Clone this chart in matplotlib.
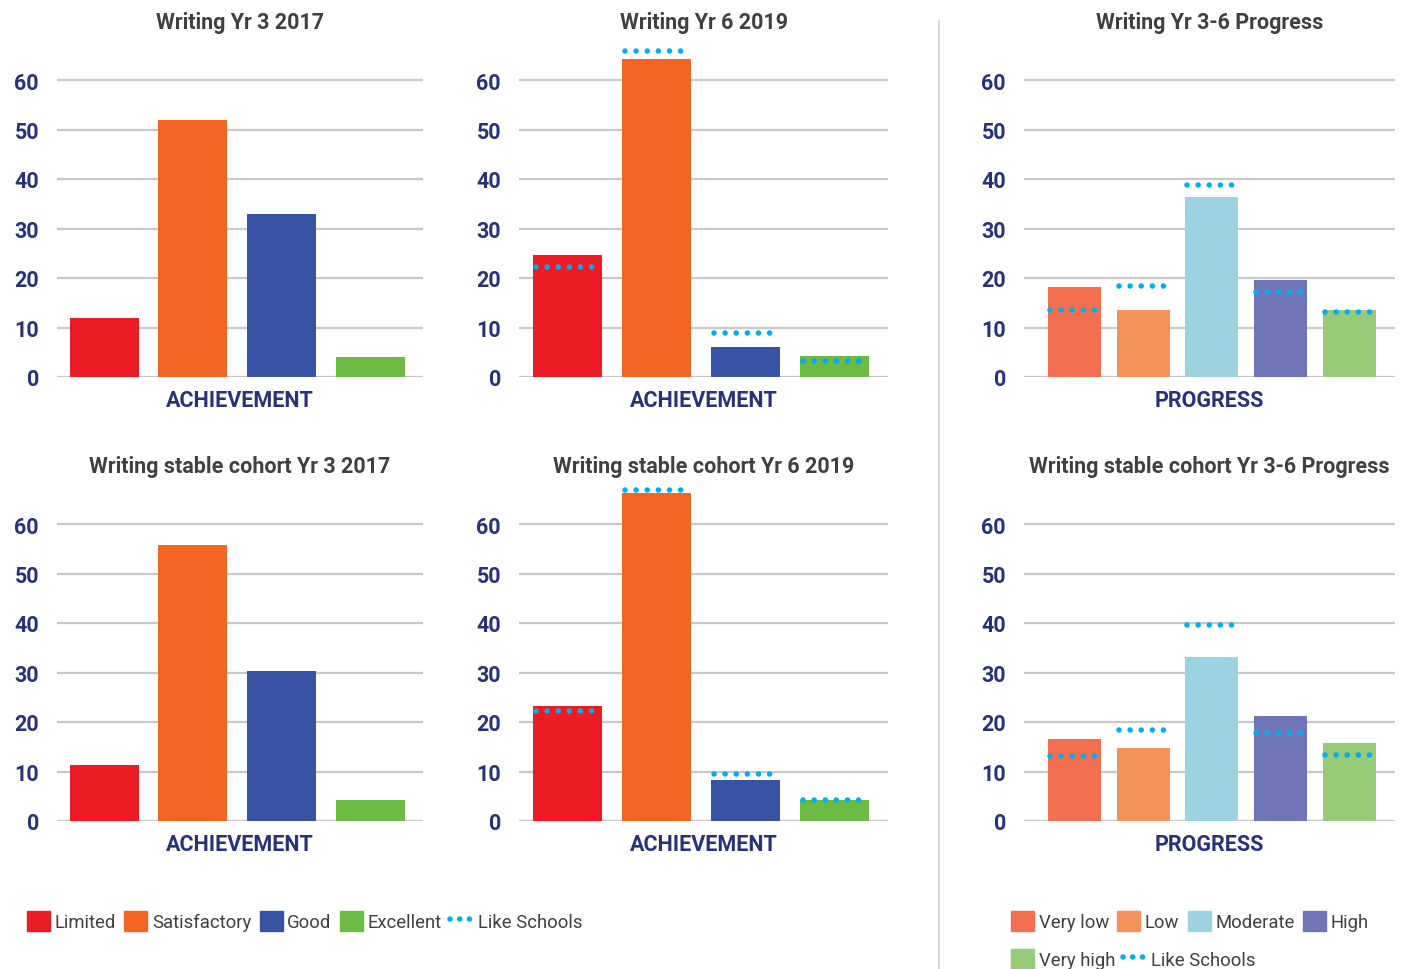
import matplotlib

matplotlib.use("Agg")

import matplotlib.pyplot as plt
from matplotlib.lines import Line2D
from matplotlib.patches import Patch

plt.rcParams["font.family"] = ["Roboto", "DejaVu Sans"]

ach_levels = ["Limited", "Satisfactory", "Good", "Excellent"]
ach_colors = ["#ed1c24", "#f26522", "#3853a4", "#6cbb45"]
prog_levels = ["Very low", "Low", "Moderate", "High", "Very high"]
prog_colors = ["#f26f50", "#f5915a", "#9dd3e1", "#6e76b7", "#97cb77"]
like_color = "#00aeef"

# school results (%)
yr3_2017 = [12, 52, 33, 4]
yr6_2019 = [24.6, 64.2, 6.1, 4.2]
yr6_2019_like = [22.2, 65.9, 8.9, 3.2]
prog_3_6 = [18.2, 13.5, 36.4, 19.6, 13.5]
prog_3_6_like = [13.5, 18.3, 38.8, 17.1, 13.2]

stable_yr3_2017 = [11.4, 55.7, 30.4, 4.3]
stable_yr6_2019 = [23.3, 66.3, 8.2, 4.3]
stable_yr6_2019_like = [22.3, 66.8, 9.4, 4.3]
stable_prog = [16.5, 14.8, 33.1, 21.3, 15.7]
stable_prog_like = [13.1, 18.3, 39.5, 17.7, 13.3]

y_ticks = [0, 10, 20, 30, 40, 50, 60]

NAVY = "#283377"
GREY_TEXT = "#404040"
GRID = "#c8c8c8"

W, H = 1411, 970
fig = plt.figure(figsize=(W / 100, H / 100), dpi=100)

DOT_LW = 4.0


def add_panel(x0, x1, y_zero, title, values, colors, xlabel, like=None, bar_w=0.775, margins=(0.53, 0.59)):
    px_per_unit = 4.95
    top = y_zero - 68 * px_per_unit
    ax = fig.add_axes([x0 / W, (H - y_zero) / H, (x1 - x0) / W, (y_zero - top) / H])
    xs = list(range(len(values)))
    ax.bar(xs, values, width=bar_w, color=colors, zorder=2)
    if like is not None:
        for x, v in zip(xs, like):
            ax.plot([x - bar_w / 2 + 0.03, x + bar_w / 2 - 0.03], [v, v], color=like_color,
                    lw=DOT_LW, linestyle=(0, (0.001, 2.0)), dash_capstyle="round",
                    zorder=3, clip_on=False)
    ax.set_xlim(-margins[0], len(values) - 1 + margins[1])
    ax.set_ylim(0, 68)
    ax.set_yticks(y_ticks)
    for t in y_ticks:
        ax.axhline(t, color=GRID, lw=1.6, zorder=1)
    for s in ax.spines.values():
        s.set_visible(False)
    ax.set_xticks([])
    ax.tick_params(axis="y", length=0, pad=13, labelsize=15.5, labelcolor=NAVY)
    for lbl in ax.get_yticklabels():
        lbl.set_fontweight("bold")
    ax.set_xlabel(xlabel, fontsize=15.5, fontweight="bold", color=NAVY, labelpad=9)
    ax.set_title(title, fontsize=15.5, fontweight="bold", color=GREY_TEXT, pad=9)
    return ax


add_panel(57, 423, 378, "Writing Yr 3 2017", yr3_2017, ach_colors, "ACHIEVEMENT")
add_panel(519, 888, 378, "Writing Yr 6 2019", yr6_2019, ach_colors, "ACHIEVEMENT",
          like=yr6_2019_like, margins=(0.55, 0.6))
add_panel(1024, 1395, 378, "Writing Yr 3-6 Progress", prog_3_6, prog_colors, "PROGRESS",
          like=prog_3_6_like, bar_w=0.77, margins=(0.73, 0.66))

add_panel(57, 423, 822, "Writing stable cohort Yr 3 2017", stable_yr3_2017, ach_colors, "ACHIEVEMENT")
add_panel(519, 888, 822, "Writing stable cohort Yr 6 2019", stable_yr6_2019, ach_colors, "ACHIEVEMENT",
          like=stable_yr6_2019_like, margins=(0.55, 0.6))
add_panel(1024, 1395, 822, "Writing stable cohort Yr 3-6 Progress", stable_prog, prog_colors, "PROGRESS",
          like=stable_prog_like, bar_w=0.77, margins=(0.73, 0.66))

# divider between achievement and progress charts
fig.add_artist(Line2D([939 / W, 939 / W], [0, (H - 22) / H], color="#d0d0d0", lw=1.2))


def like_handle():
    return Line2D([], [], color=like_color, lw=DOT_LW, linestyle=(0, (0.001, 1.75)),
                  dash_capstyle="round")


leg_kw = dict(frameon=False, fontsize=13.3, handlelength=1.25, handleheight=1.25,
              handletextpad=0.25, columnspacing=0.45, borderpad=0, borderaxespad=0,
              labelcolor=GREY_TEXT)

ach_handles = [Patch(color=c) for c in ach_colors] + [like_handle()]
fig.legend(ach_handles, ach_levels + ["Like Schools"], ncol=5, loc="center left",
           bbox_to_anchor=(27 / W, (H - 922) / H), **leg_kw)

prog_handles = [Patch(color=c) for c in prog_colors]
fig.legend(prog_handles[:4], prog_levels[:4], ncol=4, loc="center left",
           bbox_to_anchor=(1011 / W, (H - 922) / H), **leg_kw)
fig.legend([prog_handles[4], like_handle()], [prog_levels[4], "Like Schools"], ncol=2,
           loc="center left", bbox_to_anchor=(1011 / W, (H - 960) / H), **leg_kw)

fig.savefig("out.png", dpi=100)
plt.close(fig)
